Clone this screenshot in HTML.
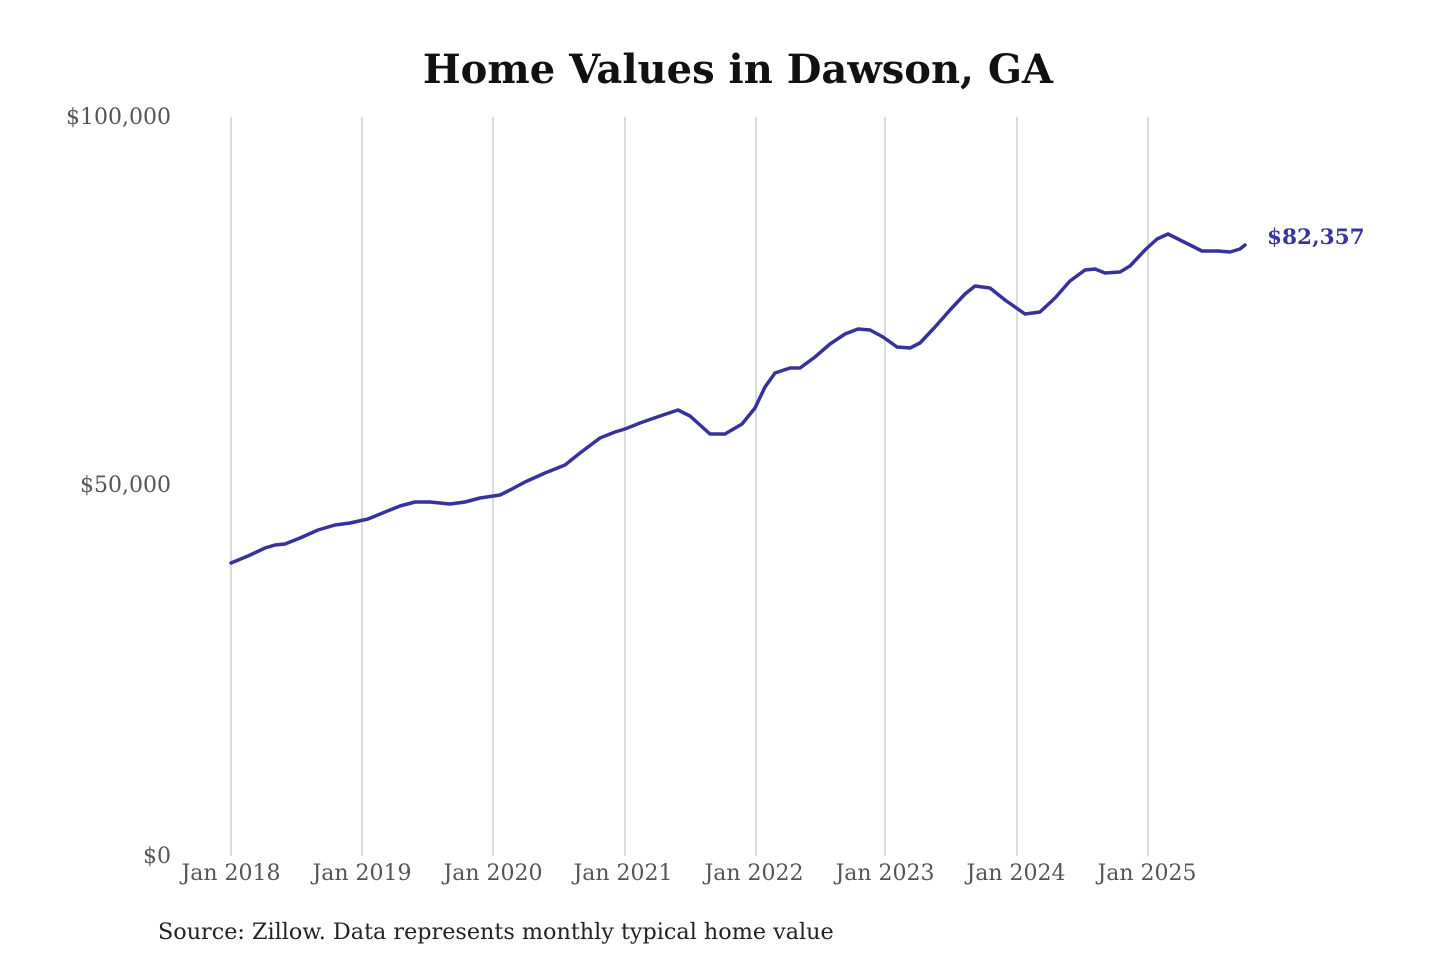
<!DOCTYPE html>
<html><head><style>
html,body{margin:0;padding:0;background:#fff;}
</style></head><body>
<svg width="1440" height="960" xmlns="http://www.w3.org/2000/svg" style="display:block">
<rect width="1440" height="960" fill="#fff"/>
<text x="738" y="83" text-anchor="middle" font-family="'DejaVu Serif','Liberation Serif',serif" font-weight="bold" font-size="40" fill="#111">Home Values in Dawson, GA</text>
<g stroke="#c8c8c8" stroke-width="1.3">
<line x1="231" y1="117" x2="231" y2="856"/>
<line x1="362" y1="117" x2="362" y2="856"/>
<line x1="493" y1="117" x2="493" y2="856"/>
<line x1="625" y1="117" x2="625" y2="856"/>
<line x1="756" y1="117" x2="756" y2="856"/>
<line x1="885" y1="117" x2="885" y2="856"/>
<line x1="1017" y1="117" x2="1017" y2="856"/>
<line x1="1148" y1="117" x2="1148" y2="856"/>
</g>
<g font-family="'DejaVu Serif','Liberation Serif',serif" font-size="22" fill="#555">
<text x="171" y="124" text-anchor="end">$100,000</text>
<text x="171" y="492" text-anchor="end">$50,000</text>
<text x="171" y="863" text-anchor="end">$0</text>
<g text-anchor="middle">
<text x="231" y="880">Jan 2018</text>
<text x="362" y="880">Jan 2019</text>
<text x="493" y="880">Jan 2020</text>
<text x="623" y="880">Jan 2021</text>
<text x="754" y="880">Jan 2022</text>
<text x="885" y="880">Jan 2023</text>
<text x="1016" y="880">Jan 2024</text>
<text x="1147" y="880">Jan 2025</text>
</g>
</g>
<polyline fill="none" stroke="#37329a" stroke-width="3.5" stroke-linejoin="round" stroke-linecap="round" points="231,563 248,556 265,548 275,545 285,544 300,538 318,530 335,525 350,523 368,519 385,512 400,506 415,502 430,502 450,504 465,502 480,498 500,495 510,490 525,482 545,473 565,465 580,453 600,438 615,432 625,429 640,423 660,416 678,410 690,416 700,425 710,434 725,434 742,424 755,408 765,387 775,373 790,368 800,368 815,357 830,344 845,334 858,329 870,330 883,337 897,347 910,348 920,343 935,327 950,310 965,294 975,286 990,288 1005,300 1025,314 1040,312 1055,298 1070,281 1085,270 1095,269 1105,273 1120,272 1130,266 1145,250 1157,239 1168,234 1180,240 1192,246 1202,251 1218,251 1230,252 1240,249 1245,245"/>
<text x="1267" y="244" font-family="'DejaVu Serif','Liberation Serif',serif" font-weight="bold" font-size="21.6" fill="#3a3599">$82,357</text>
<text x="158" y="939" font-family="'DejaVu Serif','Liberation Serif',serif" font-size="22.3" fill="#222">Source: Zillow. Data represents monthly typical home value</text>
</svg>
</body></html>
